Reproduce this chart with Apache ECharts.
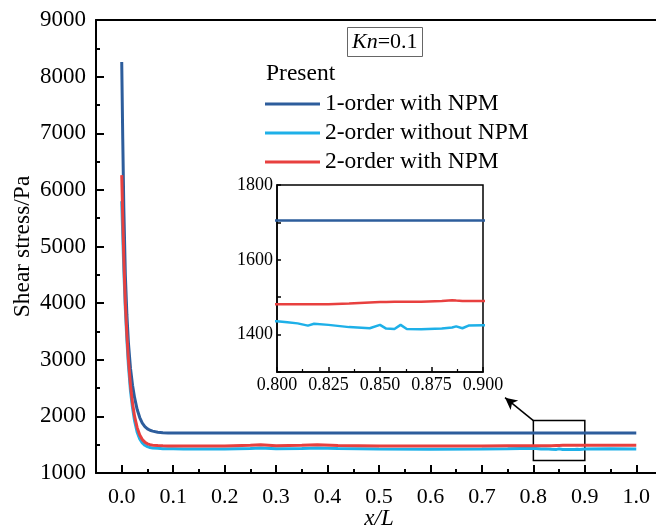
<!DOCTYPE html>
<html>
<head>
<meta charset="utf-8">
<script src="https://cdn.jsdelivr.net/npm/echarts@6/dist/echarts.min.js"></script>
<style>html,body{margin:0;padding:0;background:#fff}#c{width:656px;height:530px}</style>
</head>
<body>
<div id="c"></div>
<script>
// ---- data ----
var xValues = [0, 0.002, 0.004, 0.007, 0.01, 0.013, 0.017, 0.021, 0.025, 0.03, 0.035, 0.04, 0.045, 0.05, 0.055, 0.06, 0.07, 0.08, 0.09, 0.1,
  0.12, 0.15, 0.2, 0.25, 0.27, 0.3, 0.35, 0.38, 0.42, 0.5, 0.6, 0.7, 0.75,
  0.8, 0.805, 0.81, 0.815, 0.818, 0.825, 0.835, 0.845, 0.85, 0.853, 0.857, 0.86, 0.863, 0.87, 0.88, 0.885, 0.887, 0.89, 0.893, 0.9,
  0.95, 1.0];
var order1WithNPM = [8260, 6900, 5700, 4500, 3800, 3300, 2850, 2550, 2330, 2120, 1980, 1880, 1820, 1780, 1755, 1740, 1720, 1712, 1708, 1706,
  1705, 1705, 1705, 1705, 1705, 1705, 1705, 1705, 1705, 1705, 1705, 1705, 1705,
  1705, 1705, 1705, 1705, 1705, 1705, 1705, 1705, 1705, 1705, 1705, 1705, 1705, 1705, 1705, 1705, 1705, 1705, 1705, 1705,
  1705, 1705];
var order2WithoutNPM = [5800, 5200, 4600, 3900, 3350, 2900, 2450, 2150, 1920, 1720, 1600, 1530, 1490, 1465, 1450, 1442, 1435, 1430, 1428, 1427,
  1425, 1424, 1426, 1432, 1440, 1430, 1433, 1440, 1432, 1422, 1420, 1423, 1428,
  1436, 1433, 1430, 1424, 1429, 1426, 1420, 1417, 1426, 1416, 1415, 1426, 1415, 1414, 1416, 1419, 1422, 1417, 1424, 1425,
  1430, 1425];
var order2WithNPM = [6260, 5500, 4800, 4000, 3450, 3000, 2550, 2230, 2000, 1800, 1670, 1590, 1545, 1515, 1500, 1492, 1485, 1480, 1478, 1478,
  1476, 1475, 1478, 1490, 1500, 1482, 1490, 1500, 1485, 1478, 1475, 1478, 1480,
  1481, 1481, 1481, 1481, 1481, 1481, 1483, 1486, 1487, 1487, 1488, 1488, 1488, 1488, 1490, 1492, 1491, 1490, 1490, 1490,
  1488, 1490];
var seriesNames = ['1-order with NPM', '2-order without NPM', '2-order with NPM'];
var xTickLabels = [0.0, 0.1, 0.2, 0.3, 0.4, 0.5, 0.6, 0.7, 0.8, 0.9, 1.0];
var xMinorTicks = [0.05, 0.15, 0.25, 0.35, 0.45, 0.55, 0.65, 0.75, 0.85, 0.95];
var insetYLabels = [1400, 1600, 1800];
var zoomBox = [[0.8, 1220], [0.9, 1925]];
var arrowLine = [[0.8, 1925], [0.745, 2330]];

// ---- chart ----
var FONT = '"Liberation Serif", "Times New Roman", serif';
var colors = ['#2D5D9C', '#1EB0E8', '#E8403F'];
function pairs(ys) { return xValues.map(function (x, i) { return [x, ys[i]]; }); }
var allVals = [order1WithNPM, order2WithoutNPM, order2WithNPM];

var series = [];
allVals.forEach(function (vals, i) {
  var s = {
    name: seriesNames[i], type: 'line', xAxisIndex: 0, yAxisIndex: 0,
    data: pairs(vals), showSymbol: false, symbol: 'none',
    lineStyle: { color: colors[i], width: 3 }, itemStyle: { color: colors[i] },
    z: 3 + (i === 1 ? 0 : i)
  };
  if (i === 0) {
    s.markArea = {
      silent: true,
      itemStyle: { color: 'rgba(0,0,0,0)', borderColor: '#000', borderWidth: 1.5 },
      data: [[{ coord: zoomBox[0] }, { coord: zoomBox[1] }]]
    };
    s.markLine = {
      silent: true, symbol: ['none', 'arrow'], symbolSize: [9, 12],
      lineStyle: { color: '#000', width: 1.5, type: 'solid' },
      label: { show: false },
      data: [[{ coord: arrowLine[0] }, { coord: arrowLine[1] }]]
    };
  }
  series.push(s);
});
allVals.forEach(function (vals, i) {
  series.push({
    name: seriesNames[i], type: 'line', xAxisIndex: 3, yAxisIndex: 1,
    data: pairs(vals), showSymbol: false, symbol: 'none', clip: true,
    lineStyle: { color: colors[i], width: 2.5 }, itemStyle: { color: colors[i] },
    z: 30
  });
});

var chart = echarts.init(document.getElementById('c'));
chart.setOption({
  animation: false,
  backgroundColor: '#fff',
  textStyle: { fontFamily: FONT },
  title: [
    {
      text: '{a|Kn}=0.1', left: 347, top: 27,
      padding: [4, 5, 4, 5], borderColor: '#666', borderWidth: 1,
      textStyle: { fontFamily: FONT, fontSize: 22, fontWeight: 'normal', color: '#000',
        rich: { a: { fontFamily: FONT, fontSize: 22, fontStyle: 'italic', color: '#000' } } }
    },
    {
      text: 'Present', left: 266, top: 62,
      padding: 0,
      textStyle: { fontFamily: FONT, fontSize: 23.5, fontWeight: 'normal', color: '#000' }
    }
  ],
  legend: {
    data: seriesNames, orient: 'vertical', left: 265, top: 92,
    itemWidth: 55, itemHeight: 3, itemGap: 5, icon: 'rect', padding: 0,
    textStyle: { fontFamily: FONT, fontSize: 23.5, color: '#000' }
  },
  grid: [
    { left: 96, top: 20, width: 566, height: 453, show: false, outerBoundsMode: 'none', containLabel: false },
    { left: 277, top: 185, width: 206, height: 187, show: true, borderColor: '#000', borderWidth: 1.5, backgroundColor: '#fff', z: 10, outerBoundsMode: 'none', containLabel: false }
  ],
  xAxis: [
    {
      gridIndex: 0, type: 'value', min: -0.05, max: 1.05, position: 'bottom',
      name: 'x/L', nameLocation: 'middle', nameGap: 34, nameMoveOverlap: false,
      nameTextStyle: { fontFamily: FONT, fontSize: 23, fontStyle: 'italic', color: '#000' },
      axisLine: { onZero: false, lineStyle: { color: '#000', width: 2 } },
      axisTick: { inside: true, length: 8, lineStyle: { color: '#000', width: 2 }, customValues: xTickLabels },
      axisLabel: { customValues: xTickLabels, margin: 13, fontFamily: FONT, fontSize: 22, color: '#000',
        formatter: function (v) { return v.toFixed(1); } },
      splitLine: { show: false }
    },
    {
      gridIndex: 0, type: 'value', min: -0.05, max: 1.05, position: 'bottom',
      axisLine: { show: false },
      axisTick: { inside: true, length: 4, lineStyle: { color: '#000', width: 2 }, customValues: xMinorTicks },
      axisLabel: { show: false },
      splitLine: { show: false }
    },
    {
      gridIndex: 0, type: 'value', min: -0.05, max: 1.05, position: 'top',
      axisLine: { onZero: false, lineStyle: { color: '#000', width: 2 } },
      axisTick: { show: false }, axisLabel: { show: false },
      splitLine: { show: false }
    },
    {
      gridIndex: 1, type: 'value', min: 0.8, max: 0.9, interval: 0.025,
      axisLine: { onZero: false, lineStyle: { color: '#000', width: 1.5 } },
      axisTick: { inside: true, length: 5, lineStyle: { color: '#000', width: 1.5 } },
      minorTick: { show: true, splitNumber: 2, length: 3, lineStyle: { color: '#000', width: 1.2 } },
      axisLabel: { margin: 4, fontFamily: FONT, fontSize: 18, color: '#000',
        formatter: function (v) { return v.toFixed(3); } },
      splitLine: { show: false }, z: 10
    }
  ],
  yAxis: [
    {
      gridIndex: 0, type: 'value', min: 1000, max: 9000, interval: 1000,
      name: 'Shear stress/Pa', nameLocation: 'middle', nameGap: 61, nameMoveOverlap: false,
      nameTextStyle: { fontFamily: FONT, fontSize: 23.5, color: '#000' },
      axisLine: { onZero: false, lineStyle: { color: '#000', width: 2 } },
      axisTick: { inside: true, length: 8, lineStyle: { color: '#000', width: 2 } },
      minorTick: { show: true, splitNumber: 2, length: 4, lineStyle: { color: '#000', width: 2 } },
      axisLabel: { margin: 10, fontFamily: FONT, fontSize: 23, color: '#000',
        formatter: function (v) { return String(v); } },
      splitLine: { show: false }
    },
    {
      gridIndex: 1, type: 'value', min: 1300, max: 1800, interval: 100,
      axisLine: { onZero: false, lineStyle: { color: '#000', width: 1.5 } },
      axisTick: { inside: true, length: 4, lineStyle: { color: '#000', width: 1.5 } },
      axisLabel: { margin: 4, fontFamily: FONT, fontSize: 18, color: '#000',
        formatter: function (v) { return insetYLabels.indexOf(v) >= 0 ? String(v) : ''; } },
      splitLine: { show: false }, z: 10
    }
  ],
  series: series
});
</script>
</body>
</html>
